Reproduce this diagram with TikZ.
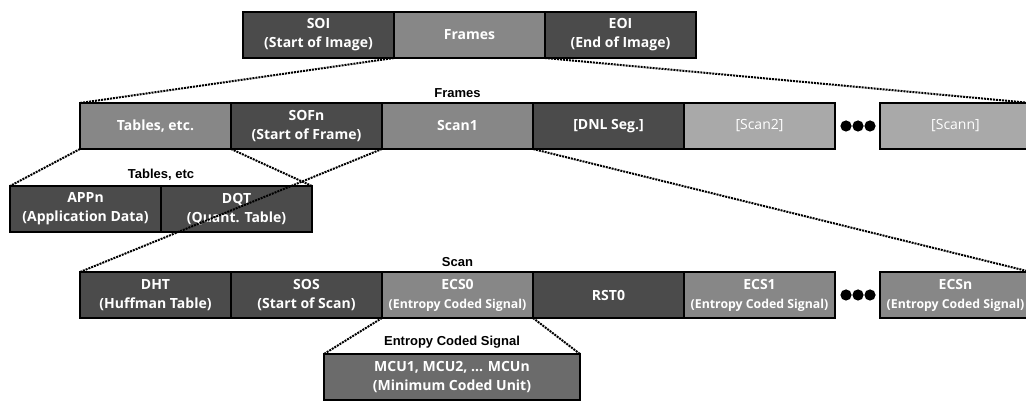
\documentclass[tikz,border=0pt]{standalone}
\usepackage{fontspec}
\newfontfamily\boxfont{Open Sans}
\newfontfamily\lblfont{Liberation Sans}
\usetikzlibrary{positioning}
\definecolor{segdark}{HTML}{4B4B4B}
\definecolor{segmid}{HTML}{878787}
\definecolor{seglight}{HTML}{A9A9A9}
\definecolor{segmcu}{HTML}{6B6B6B}
\tikzset{
  seg/.style={draw=black,line width=2.6pt,minimum width=151pt,minimum height=46pt,
    inner sep=0pt,outer sep=0pt,text=white,align=center,
    font=\boxfont\bfseries\fontsize{14}{19}\selectfont},
  segdk/.style={seg,fill=segdark},
  segmd/.style={seg,fill=segmid},
  seglt/.style={seg,fill=seglight,font=\boxfont\fontsize{14}{19}\selectfont},
  rowlbl/.style={font=\lblfont\bfseries\fontsize{13}{15}\selectfont},
  zoomln/.style={line width=2pt,densely dotted},
}
\newcommand{\ecsnote}{\\{\fontsize{12.3}{17}\selectfont(Entropy Coded Signal)}}
\begin{document}
\begin{tikzpicture}[x=1pt,y=-1pt]
\useasboundingbox (0,0) rectangle (1026,403);
% top row
\node[segdk] (soi) at (318.5,35) {SOI\\(Start of Image)};
\node[segmd,right=0pt of soi] (frm) {Frames};
\node[segdk,right=0pt of frm] (eoi) {EOI\\(End of Image)};
% frames
\node[segmd] (tbl) at (155.5,126) {Tables, etc.};
\node[segdk,right=0pt of tbl] (sofn) {SOFn\\(Start of Frame)};
\node[segmd,right=0pt of sofn] (scan1) {Scan1};
\node[segdk,right=0pt of scan1] (dnl) {[DNL Seg.]};
\node[seglt,right=0pt of dnl] (scan2) {[Scan2]};
\node[seglt,right=45pt of scan2] (scann) {[Scann]};
\node[rowlbl,above=2pt of scan1] (frmlbl) {Frames};
% tables
\node[segdk] (appn) at (85.5,209) {APPn\\(Application Data)};
\node[segdk,right=0pt of appn] (dqt) {DQT\\(Quant. Table)};
\node[rowlbl,above=2pt of appn.north east] (tbllbl) {Tables, etc};
% scan
\node[segdk] (dht) at (155.5,295) {DHT\\(Huffman Table)};
\node[segdk,right=0pt of dht] (sos) {SOS\\(Start of Scan)};
\node[segmd,right=0pt of sos] (ecs0) {ECS0\ecsnote};
\node[segdk,right=0pt of ecs0] (rst0) {RST0};
\node[segmd,right=0pt of rst0] (ecs1) {ECS1\ecsnote};
\node[segmd,right=45pt of ecs1] (ecsn) {ECSn\ecsnote};
\node[rowlbl,above=2pt of ecs0] (scanlbl) {Scan};
% entropy coded signal
\node[seg,fill=segmcu,minimum width=256pt] (mcu) at (452,377) {MCU1, MCU2, ... MCUn\\(Minimum Coded Unit)};
\node[rowlbl,above=2pt of mcu] (ecslbl) {Entropy Coded Signal};
% dots
\foreach \kr in {scan2,ecs1}{
  \foreach \i in {0,1,2}{\fill ([xshift={(11+12*\i)*1pt}]\kr.east) circle (5.6pt);}
}
% zoom lines
\draw[zoomln] (frm.south west) -- (tbl.north west);
\draw[zoomln] (frm.south east) -- (scann.north east);
\draw[zoomln] (tbl.south west) -- (appn.north west);
\draw[zoomln] (tbl.south east) -- (dqt.north east);
\draw[zoomln] (scan1.south west) -- (dht.north west);
\draw[zoomln] (scan1.south east) -- (ecsn.north east);
\draw[zoomln] (ecs0.south west) -- (mcu.north west);
\draw[zoomln] (ecs0.south east) -- (mcu.north east);
\end{tikzpicture}
\end{document}
